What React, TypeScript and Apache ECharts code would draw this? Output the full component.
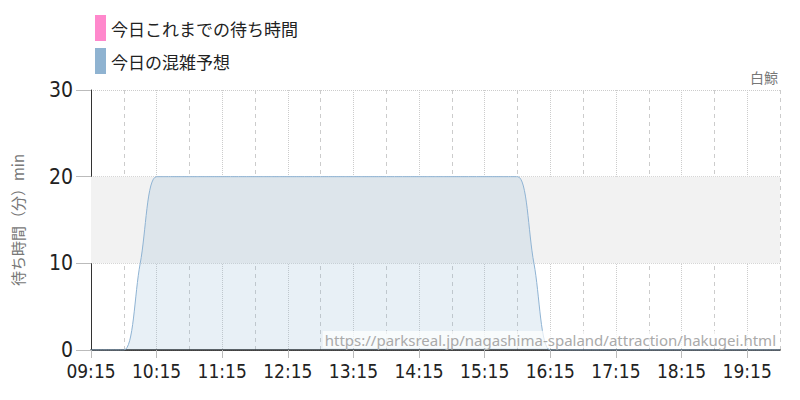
import React, { useEffect, useRef } from 'react';
import * as echarts from 'echarts';

// 時刻（15分刻み）
const times = [
	'09:15', '09:30', '09:45', '10:00', '10:15', '10:30', '10:45', '11:00',
	'11:15', '11:30', '11:45', '12:00', '12:15', '12:30', '12:45', '13:00',
	'13:15', '13:30', '13:45', '14:00', '14:15', '14:30', '14:45', '15:00',
	'15:15', '15:30', '15:45', '16:00', '16:15', '16:30', '16:45', '17:00',
	'17:15', '17:30', '17:45', '18:00', '18:15', '18:30', '18:45', '19:00',
	'19:15', '19:30', '19:45'
];

// 今日これまでの待ち時間（データなし）
const actualWait: (number | null)[] = times.map(() => null);

// 今日の混雑予想
const forecastWait = [
	0, 0, 0, 10, 20, 20, 20, 20,
	20, 20, 20, 20, 20, 20, 20, 20,
	20, 20, 20, 20, 20, 20, 20, 20,
	20, 20, 20, 10, 0, 0, 0, 0,
	0, 0, 0, 0, 0, 0, 0, 0,
	0, 0, 0
];

const yTicks = [0, 10, 20, 30];
const bandRange = [10, 20];

const seriesNames = ['今日これまでの待ち時間', '今日の混雑予想'];
const jpFont = '"Noto Sans CJK JP", "Noto Sans", sans-serif';
const numFont = '"Liberation Sans Narrow", "DejaVu Sans Condensed", "Roboto", sans-serif';

const App: React.FC = () => {
	const chartRef = useRef<HTMLDivElement>(null);

	useEffect(() => {
		if (!chartRef.current) return;
		document.body.style.margin = '0';
		const chart = echarts.init(chartRef.current, undefined, { renderer: 'svg' });

		const option: echarts.EChartsOption = {
			animation: false,
			backgroundColor: '#fff',
			textStyle: { fontFamily: jpFont },
			legend: {
				orient: 'vertical',
				left: 95,
				top: 15,
				padding: 0,
				icon: 'rect',
				itemWidth: 11,
				itemHeight: 26,
				itemGap: 7,
				data: seriesNames,
				textStyle: { fontSize: 17, color: '#222', fontFamily: jpFont }
			},
			grid: { left: 91, right: 20, top: 90, bottom: 50 },
			graphic: [
				{
					type: 'text',
					right: 22,
					top: 70,
					style: { text: '白鯨', font: '14px ' + jpFont, fill: '#777' }
				},
				{
					type: 'text',
					right: 22,
					bottom: 52,
					z: 10,
					style: {
						text: 'https://parksreal.jp/nagashima-spaland/attraction/hakugei.html',
						font: '15px "Noto Sans", sans-serif',
						fill: '#aaa',
						backgroundColor: 'rgba(255,255,255,0.7)',
						padding: [1, 2]
					}
				}
			],
			xAxis: [
				{
					type: 'category',
					data: times,
					boundaryGap: false,
					axisLine: { lineStyle: { color: '#111', width: 1.5 } },
					axisTick: {
						interval: (i: number) => i % 4 === 0,
						length: 8,
						lineStyle: { color: '#bbb' }
					},
					axisLabel: {
						interval: (i: number) => i % 4 === 0,
						fontSize: 19,
						color: '#222',
						margin: 11,
						fontFamily: numFont
					},
					splitLine: {
						show: true,
						interval: (i: number) => i % 4 === 0 && i > 0,
						lineStyle: { color: '#ccc', type: 'dotted' }
					}
				},
				{
					type: 'category',
					data: times,
					boundaryGap: false,
					position: 'bottom',
					axisLine: { show: false },
					axisTick: { show: false },
					axisLabel: { show: false },
					splitLine: {
						show: true,
						interval: (i: number) => i % 4 === 2,
						lineStyle: { color: '#ccc', type: [4, 4] }
					}
				}
			],
			yAxis: {
				type: 'value',
				min: yTicks[0],
				max: yTicks[yTicks.length - 1],
				interval: 10,
				name: '待ち時間（分）min',
				nameLocation: 'middle',
				nameGap: 66,
				nameTextStyle: { fontSize: 15, color: '#777', fontFamily: jpFont },
				axisLine: { show: true, lineStyle: { color: '#333' } },
				axisTick: { show: true, length: 15, lineStyle: { color: '#bbb' } },
				axisLabel: { fontSize: 21, color: '#222', margin: 18, fontFamily: numFont },
				splitLine: { lineStyle: { color: '#ccc', type: 'dotted' } }
			},
			series: [
				{
					name: seriesNames[0],
					type: 'line',
					data: actualWait,
					itemStyle: { color: '#ff88cc' },
					lineStyle: { color: '#ff88cc' },
					showSymbol: false,
					z: 1,
					markArea: {
						silent: true,
						itemStyle: { color: '#f2f2f2' },
						data: [[{ yAxis: bandRange[0] }, { yAxis: bandRange[1] }]]
					}
				},
				{
					name: seriesNames[1],
					type: 'line',
					data: forecastWait,
					smooth: 0.35,
					showSymbol: false,
					z: 3,
					itemStyle: { color: '#8fb3d1' },
					lineStyle: { color: '#8fb3d3', width: 1 },
					areaStyle: { color: 'rgba(148,182,212,0.3)' }
				}
			]
		};

		chart.setOption(option);
		return () => {
			chart.dispose();
		};
	}, []);

	return <div ref={chartRef} style={{ width: '800px', height: '400px' }} />;
};

export default App;
